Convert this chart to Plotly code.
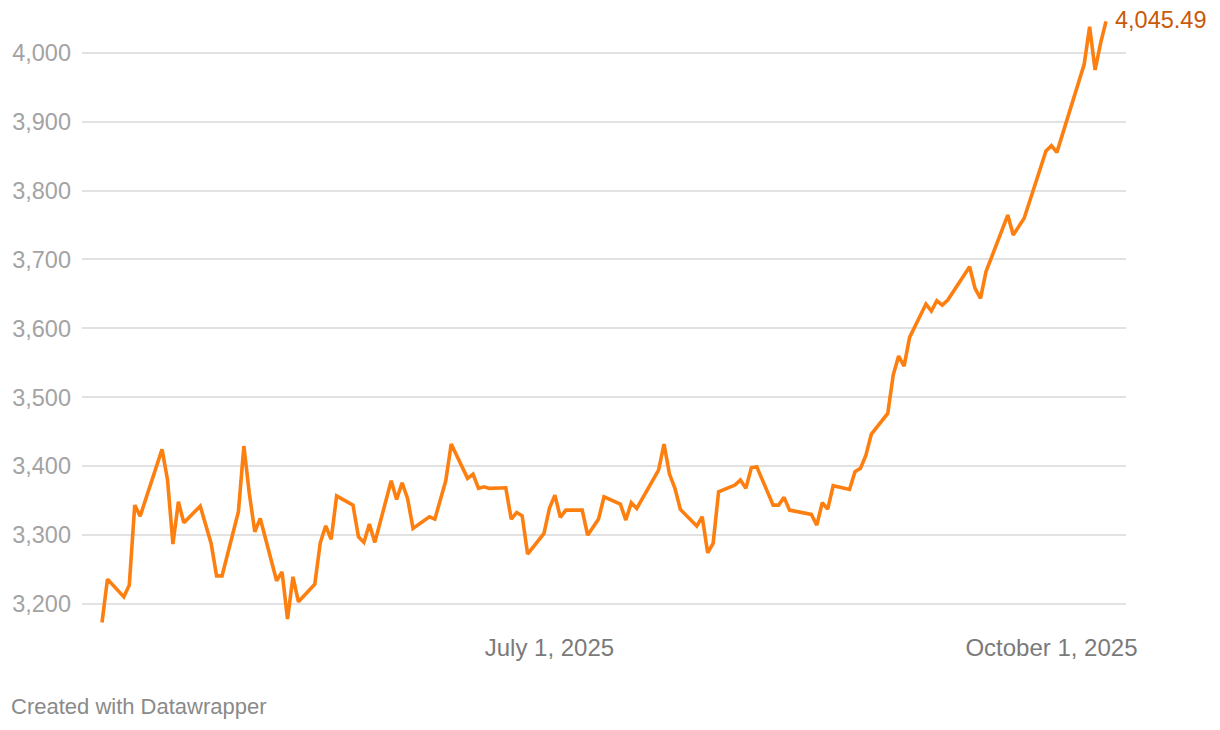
import pandas as pd
import plotly.graph_objects as go

dates = [
    "2025-04-10", "2025-04-11", "2025-04-14", "2025-04-15", "2025-04-16", "2025-04-17",
    "2025-04-21", "2025-04-22", "2025-04-23", "2025-04-24", "2025-04-25", "2025-04-28",
    "2025-04-30", "2025-05-01", "2025-05-02", "2025-05-05", "2025-05-06", "2025-05-07",
    "2025-05-08", "2025-05-09", "2025-05-12", "2025-05-13", "2025-05-14", "2025-05-15",
    "2025-05-16", "2025-05-19", "2025-05-20", "2025-05-21", "2025-05-22", "2025-05-23",
    "2025-05-26", "2025-05-27", "2025-05-28", "2025-05-29", "2025-05-30", "2025-06-02",
    "2025-06-03", "2025-06-04", "2025-06-05", "2025-06-06", "2025-06-09", "2025-06-10",
    "2025-06-12", "2025-06-13", "2025-06-16", "2025-06-17", "2025-06-18", "2025-06-19",
    "2025-06-20", "2025-06-23", "2025-06-24", "2025-06-25", "2025-06-26", "2025-06-27",
    "2025-06-30", "2025-07-01", "2025-07-02", "2025-07-03", "2025-07-04", "2025-07-07",
    "2025-07-08", "2025-07-10", "2025-07-11", "2025-07-14", "2025-07-15", "2025-07-16",
    "2025-07-17", "2025-07-21", "2025-07-22", "2025-07-23", "2025-07-24", "2025-07-25",
    "2025-07-28", "2025-07-29", "2025-07-30", "2025-07-31", "2025-08-01", "2025-08-04",
    "2025-08-05", "2025-08-06", "2025-08-07", "2025-08-08", "2025-08-11", "2025-08-12",
    "2025-08-13", "2025-08-14", "2025-08-18", "2025-08-19", "2025-08-20", "2025-08-21",
    "2025-08-22", "2025-08-25", "2025-08-26", "2025-08-27", "2025-08-28", "2025-08-29",
    "2025-09-01", "2025-09-02", "2025-09-03", "2025-09-04", "2025-09-05", "2025-09-08",
    "2025-09-09", "2025-09-10", "2025-09-11", "2025-09-12", "2025-09-16", "2025-09-17",
    "2025-09-18", "2025-09-19", "2025-09-23", "2025-09-24", "2025-09-26", "2025-09-30",
    "2025-10-01", "2025-10-02", "2025-10-07", "2025-10-08", "2025-10-09", "2025-10-10",
    "2025-10-11",
]

prices = [
    3173.3, 3236.1, 3210.4, 3227.4, 3343.5, 3327.6,
    3424.4, 3380.8, 3286.9, 3348.3, 3317.9, 3342.1,
    3288.0, 3240.9, 3240.9, 3333.8, 3429.2, 3360.5,
    3304.8, 3324.2, 3233.7, 3246.7, 3178.1, 3239.5,
    3203.2, 3228.9, 3288.8, 3313.5, 3293.8, 3357.0,
    3343.5, 3297.5, 3289.4, 3316.0, 3289.4, 3378.8,
    3351.8, 3375.9, 3353.3, 3309.7, 3326.6, 3323.2,
    3378.8, 3432.1, 3382.3, 3388.5, 3367.8, 3370.1,
    3367.8, 3368.7, 3323.2, 3332.7, 3328.0, 3272.4,
    3302.5, 3338.8, 3358.1, 3325.7, 3336.3, 3336.3,
    3299.9, 3323.2, 3355.6, 3345.0, 3321.8, 3346.9,
    3338.7, 3394.3, 3432.1, 3388.5, 3367.8, 3337.3,
    3313.1, 3326.6, 3274.3, 3288.0, 3362.8, 3372.6,
    3379.8, 3367.8, 3397.7, 3399.1, 3343.5, 3343.5,
    3354.7, 3336.3, 3330.0, 3314.5, 3346.9, 3337.7,
    3371.6, 3366.3, 3391.9, 3396.8, 3416.1, 3446.6,
    3476.6, 3532.2, 3559.8, 3545.3, 3586.9, 3635.3,
    3625.2, 3640.1, 3633.8, 3641.1, 3689.4, 3658.1,
    3643.5, 3682.1, 3764.4, 3735.4, 3759.7, 3857.3,
    3865.0, 3855.4, 3983.2, 4037.7, 3974.9, 4013.6,
    4045.49,
]

x_tick_vals = ["2025-07-01", "2025-10-01"]
x_tick_text = ["July 1, 2025", "October 1, 2025"]
y_tick_vals = [3200, 3300, 3400, 3500, 3600, 3700, 3800, 3900, 4000]
y_tick_text = ["3,200", "3,300", "3,400", "3,500", "3,600", "3,700", "3,800", "3,900", "4,000"]

last_label = "4,045.49"
footer = "Created with Datawrapper"

FONT = "Liberation Sans, Arial, Helvetica, sans-serif"
LINE = "#fd7f10"

d = pd.to_datetime(dates)
pad = pd.Timedelta(days=3.665)
x_range = [d[0] - pad, d[-1] + pad]

fig = go.Figure()
fig.add_trace(go.Scatter(
    x=d, y=prices, mode="lines",
    line=dict(color=LINE, width=3.6),
    hoverinfo="skip", showlegend=False,
))

fig.add_annotation(
    x=d[-1], y=prices[-1], text=last_label, showarrow=False,
    xanchor="left", yanchor="middle", xshift=8, yshift=1,
    borderpad=0,
    font=dict(family=FONT, size=23.5, color="#c85a08"),
)
fig.add_annotation(
    xref="paper", yref="paper", x=-0.070, y=-0.1232,
    text=footer, showarrow=False, xanchor="left", yanchor="middle",
    font=dict(family=FONT, size=22, color="#8a8a8a"),
)

fig.update_layout(
    width=1220, height=730,
    margin=dict(l=82, r=94, t=13, b=100),
    paper_bgcolor="white", plot_bgcolor="white",
    font=dict(family=FONT),
    hovermode=False,
    xaxis=dict(
        range=x_range, type="date",
        tickvals=x_tick_vals, ticktext=x_tick_text,
        showgrid=False, zeroline=False, showline=False, ticks="",
        tickfont=dict(family=FONT, size=24, color="#7a7a7a"),
        ticklabelstandoff=1,
    ),
    yaxis=dict(
        range=[3162.3, 4057.6],
        tickvals=y_tick_vals, ticktext=y_tick_text,
        showgrid=True, gridcolor="#e2e2e2", gridwidth=1.5,
        zeroline=False, showline=False, ticks="",
        tickfont=dict(family=FONT, size=23.5, color="#a3a3a3"),
        ticklabelstandoff=10,
    ),
)

fig.write_html(
    "out.html",
    config={"displayModeBar": False},
    post_script="document.body.style.margin='0';document.body.style.padding='0';document.body.style.overflow='hidden';",
)
